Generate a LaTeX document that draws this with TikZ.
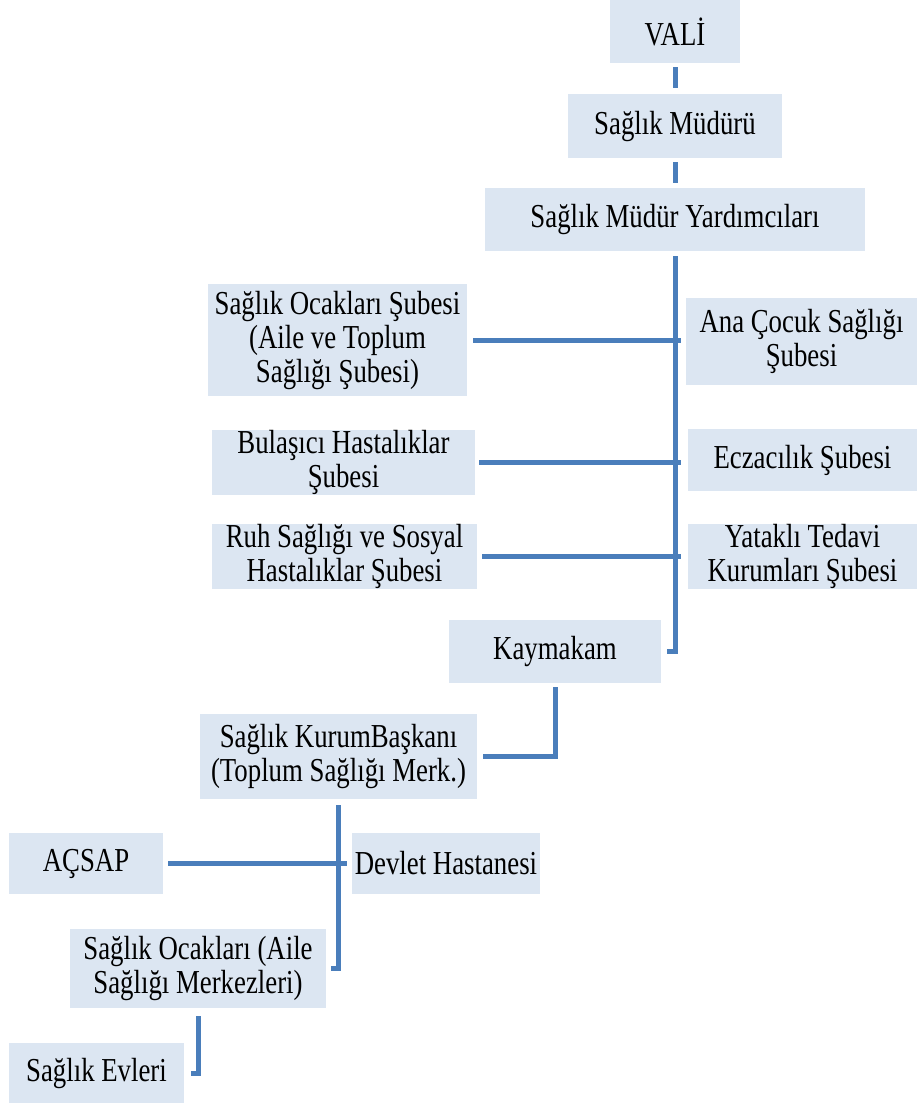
\documentclass[tikz,border=0pt]{standalone}
\usepackage{fontspec}
\setmainfont{Liberation Serif}[FakeStretch=0.8]
\definecolor{boxfill}{HTML}{DCE6F2}
\definecolor{linecol}{HTML}{4A7EBB}
\tikzset{
  orgbox/.style={fill=boxfill, inner sep=0pt, align=center,
    font=\fontsize{33.5}{34}\selectfont, text=black},
  conn/.style={draw=linecol, line width=5pt, line cap=butt, line join=miter}
}
\begin{document}
\begin{tikzpicture}[x=1pt,y=-1pt]
\useasboundingbox[fill=white] (0,0) rectangle (917,1103);
% boxes
\node[orgbox, minimum width=130pt, minimum height=63pt] (vali) at (675,31.5) {VALİ};
\node[orgbox, minimum width=214pt, minimum height=64pt] (mudur) at (675,126) {Sağlık Müdürü};
\node[orgbox, minimum width=380pt, minimum height=63pt] (yard) at (675,219.5) {Sağlık Müdür Yardımcıları};
\node[orgbox, minimum width=259pt, minimum height=112pt] (socak) at (337.5,340) {Sağlık Ocakları Şubesi\\(Aile ve Toplum\\Sağlığı Şubesi)};
\node[orgbox, minimum width=231pt, minimum height=87pt] (anacocuk) at (801.5,341.5) {Ana Çocuk Sağlığı\\Şubesi};
\node[orgbox, minimum width=263pt, minimum height=61pt] (bulas) at (343.5,462.5) {Bulaşıcı Hastalıklar\\Şubesi};
\node[orgbox, minimum width=229pt, minimum height=62pt] (eczac) at (802.5,460) {Eczacılık Şubesi};
\node[orgbox, minimum width=265pt, minimum height=61pt] (ruh) at (344.5,556.5) {Ruh Sağlığı ve Sosyal\\Hastalıklar Şubesi};
\node[orgbox, minimum width=229pt, minimum height=61pt] (yatakli) at (802.5,556.5) {Yataklı Tedavi\\Kurumları Şubesi};
\node[orgbox, minimum width=212pt, minimum height=63pt] (kaym) at (555,651.5) {Kaymakam};
\node[orgbox, minimum width=277pt, minimum height=85pt] (skb) at (338.5,756.5) {Sağlık KurumBaşkanı\\(Toplum Sağlığı Merk.)};
\node[orgbox, minimum width=154pt, minimum height=61pt] (acsap) at (86,863.5) {AÇSAP};
\node[orgbox, minimum width=188pt, minimum height=61pt] (devlet) at (446,863.5) {Devlet Hastanesi};
\node[orgbox, minimum width=256pt, minimum height=79pt] (socak2) at (198,968.5) {Sağlık Ocakları (Aile\\Sağlığı Merkezleri)};
\node[orgbox, minimum width=175pt, minimum height=60pt] (evleri) at (96.5,1073) {Sağlık Evleri};
% connectors
\draw[conn, shorten <=4pt, shorten >=6pt] (vali) -- (mudur);
\draw[conn, shorten <=4pt, shorten >=5pt] (mudur) -- (yard);
\draw[conn, shorten <=5pt, shorten >=6pt] (yard.south) |- (kaym.east);
\draw[conn, shorten <=6pt, shorten >=5pt] (socak.east) -- (socak.east -| anacocuk.west);
\draw[conn, shorten <=4pt, shorten >=7pt] (bulas.east) -- (bulas.east -| eczac.west);
\draw[conn, shorten <=5pt, shorten >=7pt] (ruh.east) -- (ruh.east -| yatakli.west);
\draw[conn, shorten <=4pt, shorten >=6pt] (kaym.south) |- (skb.east);
\draw[conn, shorten <=6pt, shorten >=5pt] (skb.south) |- (socak2.east);
\draw[conn, shorten <=5pt, shorten >=5pt] (acsap.east) -- (devlet.west);
\draw[conn, shorten <=8pt, shorten >=7pt] (socak2.south) |- (evleri.east);
\end{tikzpicture}
\end{document}
